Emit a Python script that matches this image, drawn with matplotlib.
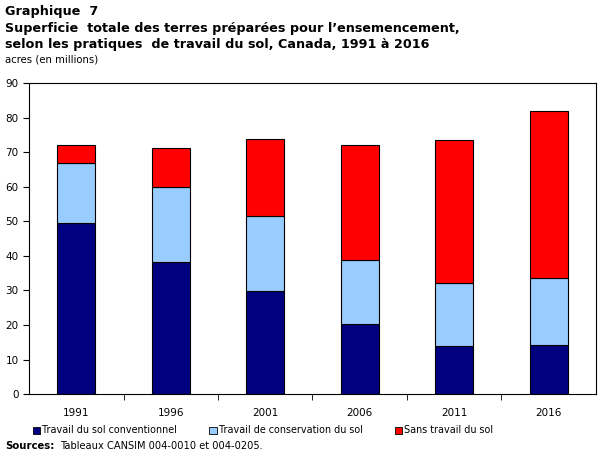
import numpy as np
import matplotlib
matplotlib.use('Agg')
import matplotlib.pyplot as plt
from matplotlib.patches import Patch

years = ['1991', '1996', '2001', '2006', '2011', '2016']
conventionnel = [49.4, 38.1, 29.7, 20.2, 13.8, 14.1]
conservation = [17.6, 21.7, 21.9, 18.5, 18.2, 19.4]
sans_travail = [5.0, 11.3, 22.1, 33.3, 41.4, 48.3]
series_labels = ['Travail du sol conventionnel',
                 'Travail de conservation du sol',
                 'Sans travail du sol']
colors = ['#000080', '#99CCFF', '#FF0000']

plt.rcParams['font.family'] = ['DejaVu Sans']

fig = plt.figure(figsize=(6.05, 4.54), dpi=100)
ax = fig.add_axes([0.048, 0.132, 0.937, 0.685])

x = np.arange(len(years))
bottom = np.zeros(len(years))
for vals, col in zip([conventionnel, conservation, sans_travail], colors):
    ax.bar(x, vals, width=0.4, bottom=bottom, color=col,
           edgecolor='black', linewidth=0.8)
    bottom += np.array(vals)

ax.set_xlim(-0.5, len(years) - 0.5)
ax.set_ylim(0, 90)
ax.set_yticks(range(0, 91, 10))
ax.set_xticks(x)
ax.set_xticklabels(years)
ax.set_xticks(np.arange(0.5, len(years) - 1, 1), minor=True)
ax.tick_params(axis='x', which='major', length=0, labelsize=7.5, pad=10)
ax.tick_params(axis='x', which='minor', length=4, direction='out')
ax.tick_params(axis='y', length=4, direction='out', labelsize=7.5)
for s in ax.spines.values():
    s.set_linewidth(0.8)

fig.text(0.008, 0.988, 'Graphique  7', fontsize=9.2, fontweight='bold',
         va='top', ha='left')
fig.text(0.008, 0.952, 'Superficie  totale des terres préparées pour l\u2019ensemencement,\n'
         'selon les pratiques  de travail du sol, Canada, 1991 à 2016',
         fontsize=9.2, fontweight='bold', va='top', ha='left', linespacing=1.3)
fig.text(0.008, 0.879, 'acres (en millions)', fontsize=7.3, va='top', ha='left')

handles = [Patch(facecolor=c, edgecolor='black', linewidth=0.6) for c in colors]
fig.legend(handles, series_labels, loc='center', bbox_to_anchor=(0.435, 0.052),
           ncol=3, frameon=False, fontsize=6.9, handlelength=0.75,
           handleheight=0.75, handletextpad=0.2, columnspacing=3.4)

fig.text(0.008, 0.006, 'Sources:', fontsize=7.3, fontweight='bold',
         va='bottom', ha='left')
fig.text(0.1, 0.006, 'Tableaux CANSIM 004-0010 et 004-0205.', fontsize=7.1,
         va='bottom', ha='left')

fig.savefig('out.png', dpi=100)
